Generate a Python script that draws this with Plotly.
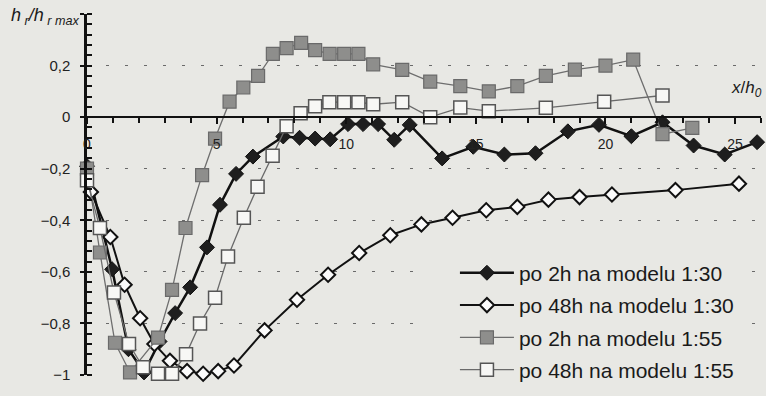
import plotly.graph_objects as go

# Relative depth h_r/h_r max along the channel (x/h0), four test runs
x_2h_130 = [0, 0.97, 1.6, 2.2, 2.8, 3.4, 3.98, 4.63, 5.13, 5.75, 6.4, 7.57, 8.2, 8.8, 9.38,
            10.07, 10.65, 11.23, 11.85, 12.45, 13.7, 14.9, 16.1, 17.3, 18.55, 19.75, 21.0,
            22.2, 23.4, 24.6, 25.85]
y_2h_130 = [-0.19, -0.59, -0.9, -0.99, -0.87, -0.76, -0.66, -0.505, -0.34, -0.22, -0.153,
            -0.075, -0.08, -0.083, -0.086, -0.027, -0.027, -0.027, -0.088, -0.03, -0.16,
            -0.115, -0.145, -0.14, -0.055, -0.03, -0.074, -0.02, -0.11, -0.145, -0.097]

x_48h_130 = [0.15, 0.9, 1.45, 2.05, 2.6, 3.2, 3.86, 4.48, 5.06, 5.67, 6.85, 8.1, 9.3, 10.5,
             11.7, 12.9, 14.1, 15.4, 16.6, 17.8, 19.0, 20.25, 22.7, 25.15]
y_48h_130 = [-0.29, -0.465, -0.65, -0.78, -0.88, -0.945, -0.985, -0.995, -0.985, -0.963,
             -0.827, -0.708, -0.611, -0.527, -0.458, -0.416, -0.39, -0.361, -0.348, -0.32,
             -0.31, -0.30, -0.283, -0.258]

x_2h_155 = [0, 0.5, 1.08, 1.66, 2.74, 3.28, 3.8, 4.44, 4.94, 5.5, 6.03, 6.6, 7.17, 7.7, 8.26,
            8.8, 9.36, 9.92, 10.47, 11.04, 12.16, 13.24, 14.4, 15.5, 16.6, 17.7, 18.82, 20.0,
            21.07, 22.2, 23.35]
y_2h_155 = [-0.2, -0.525, -0.875, -0.99, -0.855, -0.67, -0.43, -0.225, -0.083, 0.06, 0.115,
            0.16, 0.245, 0.268, 0.288, 0.26, 0.245, 0.245, 0.245, 0.205, 0.183, 0.138, 0.12,
            0.1, 0.12, 0.16, 0.184, 0.2, 0.223, -0.066, -0.042]

x_48h_155 = [0, 0.5, 1.04, 1.62, 2.16, 2.74, 3.28, 3.82, 4.36, 4.94, 5.44, 6.05, 6.58, 7.16,
             7.7, 8.24, 8.8, 9.35, 9.92, 10.47, 11.04, 12.16, 13.24, 14.4, 15.5, 17.7, 19.95,
             22.2]
y_48h_155 = [-0.245, -0.43, -0.68, -0.88, -0.97, -0.995, -0.995, -0.92, -0.8, -0.7, -0.54,
             -0.39, -0.27, -0.15, -0.035, 0.015, 0.042, 0.058, 0.058, 0.058, 0.05, 0.058,
             0.0, 0.037, 0.023, 0.036, 0.06, 0.084]

series_names = ["po 2h na modelu 1:30", "po 48h na modelu 1:30",
                "po 2h na modelu 1:55", "po 48h na modelu 1:55"]

BG = "#e8e8e4"
FONT = "Liberation Sans, Arial, sans-serif"

fig = go.Figure()

fig.add_trace(go.Scatter(
    x=x_2h_130, y=y_2h_130, name=series_names[0], mode="lines+markers",
    legendgroup="a", cliponaxis=False,
    line=dict(color="#111111", width=2.5),
    marker=dict(symbol="diamond", size=11.5, color="#1e1e1e",
                line=dict(color="#111111", width=1)),
))
fig.add_trace(go.Scatter(
    x=x_48h_130, y=y_48h_130, name=series_names[1], mode="lines+markers",
    legendgroup="b", cliponaxis=False,
    line=dict(color="#111111", width=2),
    marker=dict(symbol="diamond", size=11, color="#fbfbfb",
                line=dict(color="#111111", width=2)),
))
fig.add_trace(go.Scatter(
    x=x_2h_155, y=y_2h_155, name=series_names[2], mode="lines+markers",
    legendgroup="c", cliponaxis=False,
    line=dict(color="#6e6e6e", width=1.3),
    marker=dict(symbol="square", size=13, color="#8e8e8c",
                line=dict(color="#6a6a6a", width=1.2)),
))
fig.add_trace(go.Scatter(
    x=x_48h_155, y=y_48h_155, name=series_names[3], mode="lines+markers",
    legendgroup="d", cliponaxis=False,
    line=dict(color="#6a6a6a", width=1.3),
    marker=dict(symbol="square", size=13, color="#f7f7f5",
                line=dict(color="#555555", width=1.5)),
))

x_range = [0, 26]
y_range = [-1, 0.4]
zero_pos = (0 - y_range[0]) / (y_range[1] - y_range[0])

fig.update_layout(
    width=766, height=396,
    margin=dict(l=87, r=5, t=14, b=21, autoexpand=False),
    paper_bgcolor=BG, plot_bgcolor=BG,
    separators=", ",
    font=dict(family=FONT, size=14, color="#222222"),
    showlegend=True,
    legend=dict(
        x=0.491, y=0.339, xanchor="left", yanchor="top",
        bgcolor=BG, borderwidth=0, indentation=37, itemwidth=54,
        font=dict(family=FONT, size=21, color="#1a1a1a"),
        tracegroupgap=2,
    ),
    xaxis=dict(
        range=x_range, anchor="free", position=zero_pos,
        showline=True, linecolor="#111111", linewidth=2,
        showgrid=False, zeroline=False,
        tickmode="linear", tick0=0, dtick=5,
        ticks="outside", ticklen=6, tickwidth=1.5, tickcolor="#111111",
        minor=dict(dtick=1, tick0=0, ticks="outside", ticklen=5, tickwidth=1.5,
                   tickcolor="#111111", showgrid=False),
        tickfont=dict(family=FONT, size=14, color="#222222"),
        ticklabelstandoff=8,
    ),
    xaxis2=dict(
        range=x_range, overlaying="x", anchor="free", position=zero_pos,
        showline=False, showgrid=False, zeroline=False,
        tickmode="linear", tick0=0, dtick=5, showticklabels=False,
        ticks="inside", ticklen=5, tickwidth=1.5, tickcolor="#111111",
    ),
    yaxis=dict(
        range=y_range,
        showline=True, linecolor="#111111", linewidth=2.5,
        zeroline=False,
        showgrid=True, gridcolor="#6a6a6a", gridwidth=1.2, griddash="3px,16px",
        tickmode="linear", tick0=0, dtick=0.2,
        labelalias={"0,4": "", "0.4": ""},
        ticks="outside", ticklen=4, tickwidth=1.5, tickcolor="#111111",
        minor=dict(dtick=0.04, tick0=0, ticks="inside", ticklen=5, tickwidth=1.5,
                   tickcolor="#111111", showgrid=False),
        tickfont=dict(family=FONT, size=15, color="#222222"),
        ticklabelstandoff=7,
    ),
    yaxis2=dict(
        range=y_range, overlaying="y", anchor="free", position=0, side="left",
        showline=False, showgrid=False, zeroline=False,
        tickmode="linear", tick0=0, dtick=0.2, showticklabels=False,
        ticks="inside", ticklen=5, tickwidth=1.5, tickcolor="#111111",
    ),
)

# Axis titles: h_r/h_r max at the top of the y axis, x/h_0 at the end of the x axis
fig.add_annotation(
    x=0, y=y_range[1], xref="x", yref="y", xanchor="right", yanchor="middle",
    xshift=-6, yshift=-2, showarrow=False,
    text="<i>h</i><sub><i> r</i></sub><i>/h</i><sub><i> r max</i></sub>",
    font=dict(family=FONT, size=18, color="#1a1a1a"),
)
fig.add_annotation(
    x=24.75, y=0.11, xref="x", yref="y", xanchor="left", yanchor="middle",
    showarrow=False,
    text="<i>x</i>/<i>h</i><sub><i>0</i></sub>",
    font=dict(family=FONT, size=17, color="#1a1a1a"),
)

fig.write_html("out.html")
